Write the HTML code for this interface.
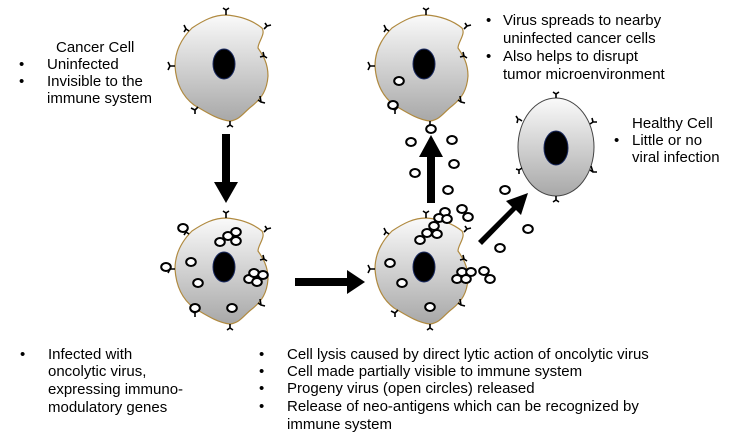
<!DOCTYPE html>
<html><head><meta charset="utf-8"><style>
body{margin:0;background:#fff;width:730px;height:443px;overflow:hidden}
svg{display:block}
text{font-family:"Liberation Sans",Arial,sans-serif;font-size:15px;fill:#000}
</style></head><body>
<svg width="730" height="443" viewBox="0 0 730 443">
<defs>
<linearGradient id="g" x1="0" y1="0" x2="0" y2="1"><stop offset="0" stop-color="#fafafa"/><stop offset="1" stop-color="#a8a8a8"/></linearGradient>
<g id="cell">
<path d="M226,15 C240,16 252,20 262,28 C266,34 258,42 258,48 C262,54 268,62 268,76 C267,90 262,98 252,106 C244,112 240,120 230,121 C218,120 206,112 194,105 C182,96 176,82 175,66 C175,50 182,38 192,28 C204,20 214,15 226,15 Z" fill="url(#g)" stroke="#b08a40" stroke-width="1.2"/>
<ellipse cx="224" cy="64" rx="11" ry="15" fill="#000" stroke="#1a2a60" stroke-width="1"/>
<g stroke="#000" stroke-width="1.6" fill="none">
<path d="M226,15 v-5 M223,8 l3,2 l3,-2"/>
<path d="M264,29 l3,-3 M265,23 l2,3 l4,-1"/>
<path d="M189,31 l-3,-2 M184,25 l2,4 l-2,3"/>
<path d="M175,66 h-5 M168,62 l2,4 l-2,4"/>
<path d="M260,57 l4,-1 M263,52 l1,4 l3,2"/>
<path d="M198,107 l-3,3 M191,108 l4,2 l0,4"/>
<path d="M258,100 l3,2 M260,96 l1,6 l4,1"/>
<path d="M230,121 v4 M227,127 l3,-2 l3,2"/>
</g>
</g>
<g id="v"><ellipse rx="4.8" ry="4" fill="#fff" stroke="#000" stroke-width="2"/></g>
</defs>
<use href="#cell"/>
<use href="#cell" x="0" y="203"/>
<use href="#cell" x="200" y="0"/>
<use href="#cell" x="200" y="203"/>
<!-- healthy cell -->
<ellipse cx="556" cy="147" rx="38" ry="49" fill="url(#g)" stroke="#444" stroke-width="1"/>
<ellipse cx="556" cy="148" rx="12" ry="17" fill="#000" stroke="#1a2a60" stroke-width="1"/>
<g stroke="#000" stroke-width="1.6" fill="none">
<path d="M556,98 v-4 M553,92 l3,2 l3,-2"/><path d="M522,121 l-3,-2 M516,116 l2,3 l-1,4"/>
<path d="M590,124 l3,-2 M592,118 l1,4 l4,0"/><path d="M590,170 l3,2 M591,166 l2,6 l4,0"/>
<path d="M522,168 l-3,2 M516,169 l3,1 l0,4"/>
<path d="M556,196 v4 M553,202 l3,-2 l3,2"/>
</g>
<!-- arrows -->
<g fill="#000">
<polygon points="222,134 230,134 230,182 238,182 226,203 214,182 222,182"/>
<polygon points="295,278 347,278 347,270 365,282 347,294 347,286 295,286"/>
<polygon points="427,203 435,203 435,157 443,157 431,135 419,157 427,157"/>
<polygon points="478,241 512,207 506,201 528,193 521,215 516,210 482,245"/>
</g>
<!-- viruses -->
<g>
<use href="#v" x="183" y="228"/><use href="#v" x="228" y="236"/><use href="#v" x="236" y="232"/><use href="#v" x="220" y="242"/><use href="#v" x="236" y="241"/><use href="#v" x="166" y="267"/><use href="#v" x="191" y="262"/><use href="#v" x="198" y="283"/><use href="#v" x="249" y="279"/><use href="#v" x="254" y="273"/><use href="#v" x="263" y="275"/><use href="#v" x="257" y="282"/><use href="#v" x="195" y="308"/><use href="#v" x="232" y="308"/>
<use href="#v" x="390" y="263"/><use href="#v" x="402" y="283"/><use href="#v" x="420" y="240"/><use href="#v" x="427" y="233"/><use href="#v" x="437" y="234"/><use href="#v" x="434" y="226"/><use href="#v" x="457" y="279"/><use href="#v" x="462" y="272"/><use href="#v" x="466" y="279"/><use href="#v" x="471" y="272"/><use href="#v" x="430" y="307"/>
<use href="#v" x="411" y="142"/><use href="#v" x="452" y="140"/><use href="#v" x="454" y="164"/><use href="#v" x="415" y="173"/><use href="#v" x="448" y="190"/><use href="#v" x="431" y="129"/><use href="#v" x="505" y="190"/><use href="#v" x="528" y="229"/><use href="#v" x="500" y="248"/><use href="#v" x="462" y="209"/><use href="#v" x="468" y="217"/><use href="#v" x="445" y="212"/><use href="#v" x="439" y="218"/><use href="#v" x="447" y="219"/><use href="#v" x="484" y="271"/><use href="#v" x="490" y="279"/>
<use href="#v" x="399" y="81"/><use href="#v" x="393" y="105"/>
</g>
<!-- text -->
<text x="56" y="52">Cancer Cell</text>
<text x="19" y="69">•</text><text x="47" y="69">Uninfected</text>
<text x="19" y="86">•</text><text x="47" y="86">Invisible to the</text>
<text x="47" y="103">immune system</text>
<text x="486" y="25">•</text><text x="503" y="25">Virus spreads to nearby</text>
<text x="503" y="43">uninfected cancer cells</text>
<text x="486" y="61">•</text><text x="503" y="61">Also helps to disrupt</text>
<text x="503" y="79">tumor microenvironment</text>
<text x="632" y="128">Healthy Cell</text>
<text x="614" y="145">•</text><text x="632" y="145">Little or no</text>
<text x="632" y="162">viral infection</text>
<text x="20" y="359">•</text><text x="48" y="359">Infected with</text>
<text x="48" y="376">oncolytic virus,</text>
<text x="48" y="394">expressing immuno-</text>
<text x="48" y="412">modulatory genes</text>
<text x="259" y="359">•</text><text x="287" y="359">Cell lysis caused by direct lytic action of oncolytic virus</text>
<text x="259" y="376">•</text><text x="287" y="376">Cell made partially visible to immune system</text>
<text x="259" y="393">•</text><text x="287" y="393">Progeny virus (open circles) released</text>
<text x="259" y="411">•</text><text x="287" y="411">Release of neo-antigens which can be recognized by</text>
<text x="287" y="429">immune system</text>
</svg>
</body></html>
